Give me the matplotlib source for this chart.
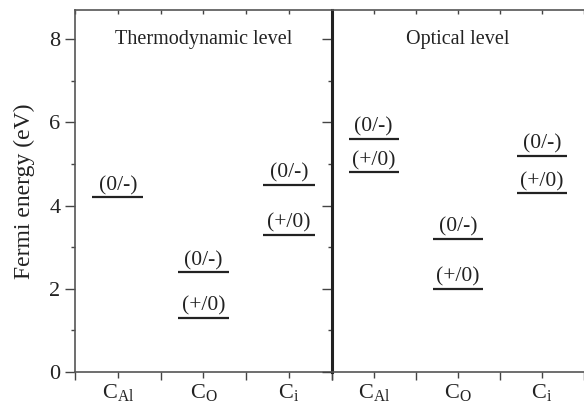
import matplotlib
matplotlib.use('Agg')
from matplotlib import pyplot as plt

plt.rcParams['font.family'] = ['Liberation Serif', 'DejaVu Serif']
plt.rcParams['mathtext.fontset'] = 'custom'
plt.rcParams['mathtext.rm'] = 'Liberation Serif'
plt.rcParams['mathtext.it'] = 'Liberation Serif:italic'

# defect names and transition levels (eV)
defects = [r'C$_{\rm Al}$', r'C$_{\rm O}$', r'C$_{\rm i}$']
thermo_minus = [4.2, 2.4, 4.5]     # (0/-)
thermo_plus = [None, 1.3, 3.3]     # (+/0)
optical_minus = [5.6, 3.2, 5.2]
optical_plus = [4.8, 2.0, 4.3]
titles = ['Thermodynamic level', 'Optical level']

fig = plt.figure(figsize=(5.84, 4.05), dpi=100)
x0, x1, xr = 75 / 584, 331.7 / 584, 1.0
y0, y1 = 1 - 372 / 405, 1 - 10 / 405
ax1 = fig.add_axes([x0, y0, x1 - x0, y1 - y0])
ax2 = fig.add_axes([x1, y0, xr - x1, y1 - y0])

ax1.set_xlim(0, 6)
ax2.set_xlim(6, 6 + (584 - 331.7) / 42.8)
lc = '#222222'
tc = '#444444'

def draw_panel(ax, offset, minus, plus, title):
    centers = [offset + 1 + 2 * i for i in range(3)]
    bounds = [offset + 2 * i for i in range(4)]
    for c, m, p in zip(centers, minus, plus):
        for val, lab in ((m, '(0/-)'), (p, '(+/0)')):
            if val is None:
                continue
            ax.hlines(val, c - 0.6, c + 0.6, color=lc, lw=1.6)
            ax.text(c, val + 0.17, lab, ha='center', va='baseline', fontsize=15.5, color=lc)
    ax.text(offset + 3, 8.0, title, ha='center', va='center', fontsize=14.5, color=lc)
    ax.set_ylim(0, 8.7)
    ax.set_xticks(centers)
    ax.set_xticklabels(defects, fontsize=16)
    ax.set_xticks(bounds, minor=True)
    ax.set_yticks([0, 2, 4, 6, 8])
    ax.set_yticks([1, 3, 5, 7], minor=True)
    ax.tick_params(axis='x', which='major', direction='out', length=4, width=1, colors=tc, labelcolor=lc, pad=3)
    ax.tick_params(axis='x', which='minor', direction='out', length=6, width=1, colors=tc)
    ax.tick_params(axis='y', which='major', direction='out', length=7, width=1, colors=tc, labelcolor=lc, labelsize=16)
    ax.tick_params(axis='y', which='minor', direction='out', length=3, width=1, colors=tc)
    ax.spines['right'].set_visible(False)
    for s in ('top', 'bottom', 'left'):
        ax.spines[s].set_color('#555555')
        ax.spines[s].set_linewidth(1.2)
    # small inward ticks on the top spine
    top = ax.secondary_xaxis('top')
    top.set_xticks(centers + bounds)
    top.tick_params(direction='in', length=3, width=1, colors=tc, labeltop=False)
    top.spines['top'].set_visible(False)

draw_panel(ax1, 0, thermo_minus, thermo_plus, titles[0])
draw_panel(ax2, 6, optical_minus, optical_plus, titles[1])

ax2.tick_params(axis='y', labelleft=False)
ax2.spines['left'].set_linewidth(2.2)
ax2.spines['left'].set_color('#222222')

ax1.set_ylabel('Fermi energy (eV)', fontsize=17, color=lc, labelpad=10)

fig.savefig('out.png', dpi=100)
